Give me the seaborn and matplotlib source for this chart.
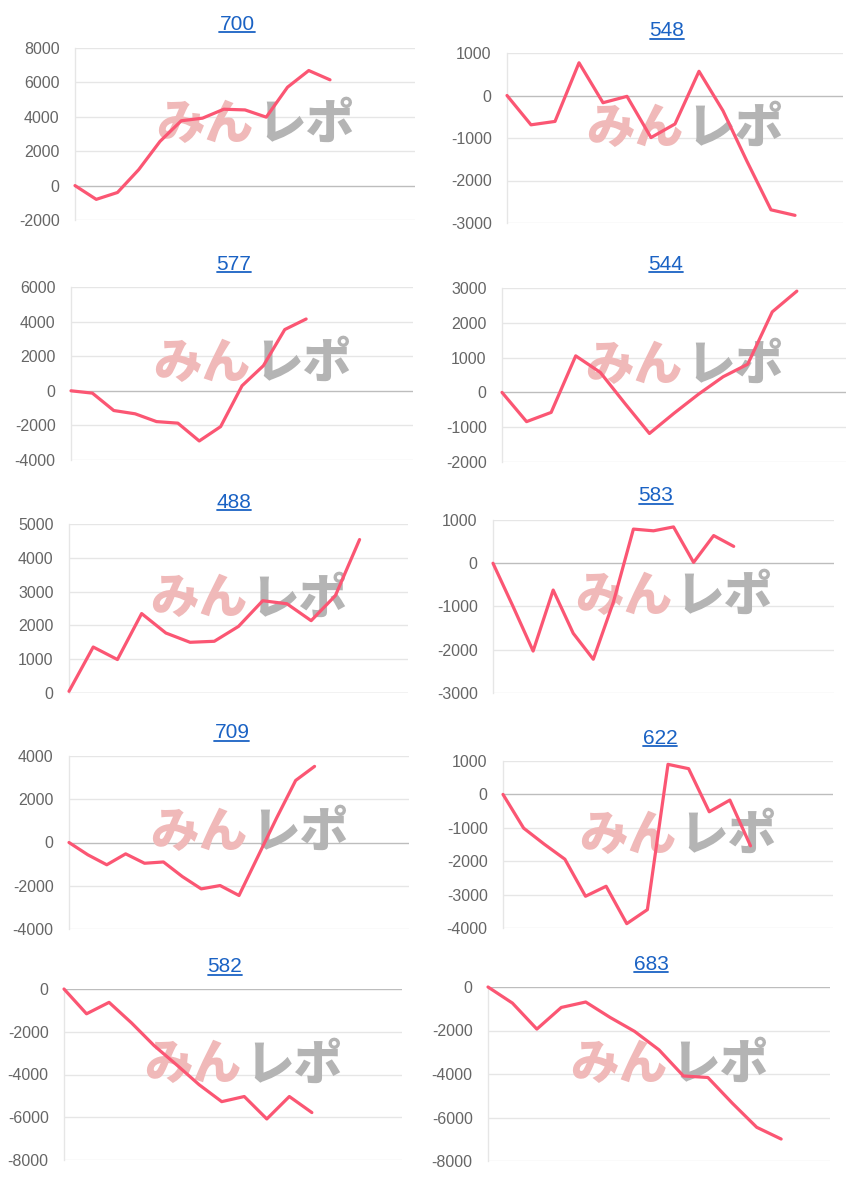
import matplotlib
matplotlib.use("Agg")
import matplotlib.pyplot as plt
import seaborn as sns
import pandas as pd
import numpy as np
from matplotlib.lines import Line2D

# ---- data ----
titles = ["700", "548", "577", "544", "488", "583", "709", "622", "582", "683"]
s700 = [0, -800, -400, 930, 2570, 3770, 3920, 4440, 4400, 3980, 5720, 6690, 6150]
s548 = [0, -690, -610, 770, -170, -20, -990, -670, 570, -360, -1550, -2690, -2820]
s577 = [0, -135, -1140, -1330, -1780, -1870, -2900, -2070, 290, 1450, 3540, 4150]
s544 = [0, -840, -575, 1050, 575, -315, -1180, -600, -50, 450, 810, 2315, 2910]
s488 = [50, 1360, 990, 2350, 1775, 1500, 1530, 1970, 2730, 2640, 2140, 2880, 4540]
s583 = [0, -1000, -2030, -620, -1620, -2220, -900, 790, 750, 840, 20, 640, 390]
s709 = [0, -570, -1030, -525, -960, -900, -1575, -2145, -1990, -2450, -650, 1150, 2870, 3520]
s622 = [0, -1010, -1490, -1940, -3050, -2750, -3870, -3450, 900, 770, -520, -170, -1540]
s582 = [0, -1160, -625, -1590, -2650, -3550, -4480, -5270, -5030, -6080, -5030, -5780]
s683 = [0, -740, -1935, -940, -690, -1400, -2040, -2890, -4090, -4160, -5340, -6450, -6990]
series = [s700, s548, s577, s544, s488, s583, s709, s622, s582, s683]
label_counts = [17, 15, 17, 15, 15, 18, 19, 17, 16, 15]
y_ranges = [(-2000, 8000, 2000), (-3000, 1000, 1000), (-4000, 6000, 2000),
            (-2000, 3000, 1000), (0, 5000, 1000), (-3000, 1000, 1000),
            (-4000, 4000, 2000), (-4000, 1000, 1000), (-8000, 0, 2000),
            (-8000, 0, 2000)]
watermark_left = "みん"
watermark_right = "レポ"

# ---- layout (pixels) ----
W, H = 862, 1178
rects = [(75, 415, 48, 220), (507, 843, 53, 223), (71, 413, 287, 460),
         (502, 846, 288, 462), (69, 408, 524, 693), (493, 834, 520, 693),
         (69, 409, 756, 929), (503, 833, 761, 928), (64, 402, 989, 1160),
         (488, 830, 987, 1161)]
title_pos = [(237, 22), (667, 29), (234, 262), (666, 262), (234, 500),
             (656, 494), (232, 731), (660, 736), (225, 965), (651, 962)]

sns.set_theme(style="white")
plt.rcParams['font.family'] = ['Liberation Sans', 'DejaVu Sans']

LINE = "#fb5673"
GRID = "#e6e6e6"
ZERO = "#bdbdbd"
TICK = "#666666"
TITLE = "#1a62c4"

fig = plt.figure(figsize=(W / 100, H / 100), dpi=100)
fig.patch.set_facecolor("white")

title_texts = []
for i, (l, r, t, b) in enumerate(rects):
    ax = fig.add_axes([l / W, 1 - b / H, (r - l) / W, (b - t) / H])
    ax.set_facecolor("white")
    df = pd.DataFrame({"x": np.arange(len(series[i])), "y": series[i]})
    lo, hi, step = y_ranges[i]
    ticks = np.arange(lo, hi + step, step)
    for tv in ticks:
        ax.axhline(tv, color=ZERO if tv == 0 else GRID, lw=1.0, zorder=0)
    ax.text(0.525, 0.555, watermark_left, transform=ax.transAxes, ha="right", va="center",
            fontsize=35, fontweight=900, color="#f0b9b9",
            family=["Noto Sans CJK JP"], zorder=1)
    ax.text(0.535, 0.555, watermark_right, transform=ax.transAxes, ha="left", va="center",
            fontsize=35, fontweight=900, color="#b4b4b4",
            family=["Noto Sans CJK JP"], zorder=1)
    sns.lineplot(data=df, x="x", y="y", ax=ax, color=LINE, linewidth=2.3,
                 zorder=3, clip_on=False)
    ax.lines[-1].set_solid_joinstyle("round")
    ax.set_xlim(0, label_counts[i] - 1)
    ax.set_ylim(lo, hi)
    ax.set_yticks(ticks)
    ax.set_yticklabels([str(int(v)) for v in ticks])
    ax.set_xticks([])
    ax.set_xlabel("")
    ax.set_ylabel("")
    ax.tick_params(axis="y", length=0, pad=11, labelsize=11.5, labelcolor=TICK)
    for side in ["top", "right", "bottom"]:
        ax.spines[side].set_visible(False)
    ax.spines["left"].set_color(GRID)
    ax.spines["left"].set_linewidth(1.0)
    cx, cy = title_pos[i]
    txt = fig.text(cx / W, 1 - (cy + 7.5) / H, titles[i], ha="center", va="baseline",
                   fontsize=15, color=TITLE)
    title_texts.append((txt, cy))

fig.canvas.draw()
renderer = fig.canvas.get_renderer()
for txt, cy in title_texts:
    bb = txt.get_window_extent(renderer)
    yl = 1 - (cy + 10) / H
    fig.add_artist(Line2D([bb.x0 / W, bb.x1 / W], [yl, yl], color=TITLE, lw=1.3,
                          transform=fig.transFigure))

fig.savefig("out.png", dpi=100)
